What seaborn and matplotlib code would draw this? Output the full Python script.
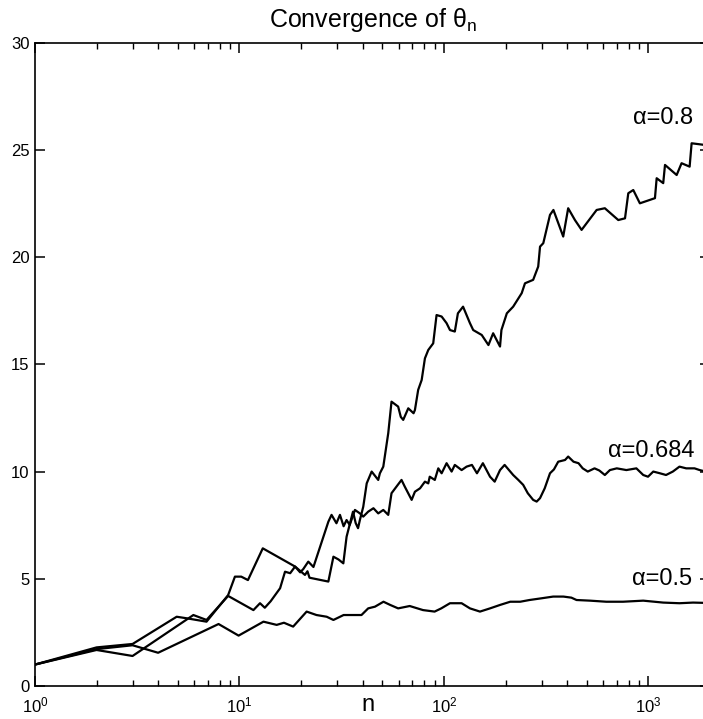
import numpy as np
import pandas as pd
import matplotlib
matplotlib.use("Agg")
import matplotlib.pyplot as plt
import seaborn as sns
from matplotlib.ticker import LogLocator, NullFormatter, FixedLocator

# values (n, theta_n)
n_a08 = [1, 2, 3, 4.93, 5.5, 6.9, 8.8, 9.5, 10.2, 11.0, 13.0, 18.7, 20.9, 21.5, 22.0,
         27.2, 28.8, 30.5, 32.2, 33.4, 35.9, 37.0, 38.0, 38.8, 40.3, 41.9, 44.3, 47.7,
         48.6, 50.5, 53.4, 55.4, 59.7, 61.5, 63.2, 66.9, 71.0, 72.1, 74.8, 77.8, 80.7,
         83.8, 88.6, 92.0, 97.4, 103, 107, 113, 117, 124, 134, 139, 153, 165, 174, 188,
         191, 203, 218, 240, 249, 273, 289, 295, 306, 330, 343, 383, 405, 437, 471, 558,
         612, 712, 768, 797, 843, 908, 1076, 1097, 1181, 1205, 1374, 1452, 1590, 1626, 2000]
y_a08 = [1.0, 1.80, 1.96, 3.23, 3.16, 3.00, 4.24, 5.10, 5.10, 4.94, 6.42, 5.57, 5.18, 5.35, 5.05,
         4.87, 6.03, 5.90, 5.72, 6.96, 8.13, 7.60, 7.36, 7.74, 8.36, 9.45, 10.00, 9.61,
         9.92, 10.23, 11.79, 13.26, 13.03, 12.55, 12.41, 12.95, 12.72, 12.87, 13.81, 14.27, 15.28,
         15.67, 15.98, 17.30, 17.23, 16.92, 16.60, 16.53, 17.38, 17.69, 16.92, 16.60, 16.37, 15.90, 16.45, 15.83,
         16.60, 17.38, 17.69, 18.32, 18.78, 18.94, 19.56, 20.49, 20.65, 21.97, 22.20, 20.96, 22.28, 21.73, 21.27, 22.20,
         22.28, 21.73, 21.81, 22.98, 23.13, 22.51, 22.75, 23.68, 23.45, 24.30, 23.83, 24.38, 24.22, 25.31, 25.20]

n_a0684 = [1, 2, 3, 5.95, 6.9, 8.8, 11.7, 12.6, 13.3, 14.2, 15.8, 16.7, 17.7, 18.7, 19.8,
           20.5, 21.7, 23.0, 27.2, 28.2, 29.8, 31.0, 32.3, 33.4, 34.6, 36.7, 38.8, 40.3,
           42.6, 45.2, 47.7, 50.5, 53.4, 55.4, 58.6, 62.0, 64.3, 69.5, 72.1, 76.4, 80.7,
           83.8, 85.2, 90.2, 93.8, 97.4, 103, 109, 113, 122, 129, 137, 145, 155, 168, 177,
           188, 198, 218, 231, 244, 257, 273, 284, 295, 311, 330, 345, 362, 391, 405, 430,
           455, 477, 505, 545, 575, 612, 648, 700, 780, 873, 943, 995, 1056, 1138, 1219,
           1316, 1418, 1530, 1680, 1780, 2000]
y_a0684 = [1.0, 1.68, 1.40, 3.31, 3.08, 4.20, 3.54, 3.86, 3.65, 3.95, 4.56, 5.33, 5.26, 5.57, 5.30,
           5.45, 5.80, 5.55, 7.66, 7.98, 7.59, 7.98, 7.45, 7.74, 7.51, 8.21, 8.05, 7.90,
           8.13, 8.29, 8.05, 8.21, 7.98, 8.99, 9.30, 9.61, 9.30, 8.68, 9.06, 9.22, 9.53,
           9.45, 9.76, 9.61, 10.15, 9.92, 10.39, 10.00, 10.31, 10.07, 10.23, 10.31, 9.92, 10.39, 9.76, 9.53,
           10.07, 10.31, 9.84, 9.61, 9.38, 8.99, 8.68, 8.60, 8.76, 9.22, 9.92, 10.10, 10.46, 10.54, 10.70, 10.46,
           10.39, 10.15, 10.00, 10.15, 10.05, 9.84, 10.07, 10.15, 10.07, 10.15, 9.84, 9.76, 10.00, 9.92, 9.84,
           10.00, 10.23, 10.15, 10.15, 10.07, 9.95]

n_a05 = [1, 2, 3, 4, 7.9, 9.9, 13.1, 15.2, 16.5, 18.3, 21.3, 23.8, 26.7, 28.8, 32.3, 34.6,
         39.5, 42.6, 46, 50.6, 54.6, 59.7, 68, 79, 90, 97, 107, 122, 134, 150, 168, 188,
         211, 236, 262, 300, 342, 384, 420, 445, 518, 622, 751, 943, 1181, 1418, 1652, 2000]
y_a05 = [1.0, 1.72, 1.90, 1.55, 2.89, 2.35, 3.00, 2.85, 2.95, 2.77, 3.47, 3.31, 3.23, 3.08, 3.31, 3.31,
         3.31, 3.62, 3.70, 3.93, 3.78, 3.62, 3.73, 3.54, 3.47, 3.62, 3.86, 3.86, 3.62, 3.47, 3.62, 3.78,
         3.93, 3.93, 4.01, 4.09, 4.17, 4.17, 4.12, 4.01, 3.98, 3.93, 3.93, 3.98, 3.89, 3.86, 3.89, 3.87]

series_labels = ["α=0.8", "α=0.684", "α=0.5"]
label_pos_n = [1180, 1030, 1160]
label_pos_y = [26.5, 10.96, 4.99]

sns.set_style("ticks")
plt.rcParams['font.family'] = ['Liberation Sans', 'DejaVu Sans']
plt.rcParams['mathtext.fontset'] = 'custom'
plt.rcParams['mathtext.rm'] = 'Liberation Sans'
plt.rcParams['mathtext.it'] = 'Liberation Sans'
plt.rcParams['text.color'] = 'black'
plt.rcParams['axes.labelcolor'] = 'black'

fig = plt.figure(figsize=(7.03, 7.19), dpi=100)
ax = fig.add_axes([35 / 703, 33 / 719, 675 / 703, 643.3 / 719])

for n_vals, y_vals in [(n_a08, y_a08), (n_a0684, y_a0684), (n_a05, y_a05)]:
    df = pd.DataFrame({"n": n_vals, "theta": y_vals})
    sns.lineplot(data=df, x="n", y="theta", ax=ax, color="black", lw=1.6,
                 estimator=None, sort=False)

ax.set_xscale("log")
ax.set_xlim(1, 2000)
ax.set_ylim(0, 30)
ax.set_yticks([0, 5, 10, 15, 20, 25, 30])
ax.xaxis.set_major_locator(FixedLocator([1, 10, 100, 1000]))
ax.set_xticklabels([r"$10^{0}$", r"$10^{1}$", r"$10^{2}$", r"$10^{3}$"])
ax.xaxis.set_minor_locator(LogLocator(base=10, subs=np.arange(2, 10)))
ax.xaxis.set_minor_formatter(NullFormatter())

ax.tick_params(which="both", direction="in", top=True, right=True,
               colors="black", labelcolor="black")
ax.tick_params(which="major", length=7, width=1.1)
ax.tick_params(which="minor", length=4, width=1.0)
ax.tick_params(axis="y", labelsize=12, pad=4)
ax.tick_params(axis="x", labelsize=12, pad=7)
for sp in ax.spines.values():
    sp.set_linewidth(1.2)
    sp.set_color("black")

ax.set_xlabel("n", fontsize=17, color="black")
ax.xaxis.set_label_coords(0.493, -0.012)
ax.set_ylabel("")
ax.set_title(r"Convergence of $\theta_{n}$", fontsize=18, pad=11, color="black")

for lab, xn, yv in zip(series_labels, label_pos_n, label_pos_y):
    ax.text(xn, yv, lab, fontsize=17, ha="center", va="center", color="black")

fig.savefig("out.png", dpi=100)
